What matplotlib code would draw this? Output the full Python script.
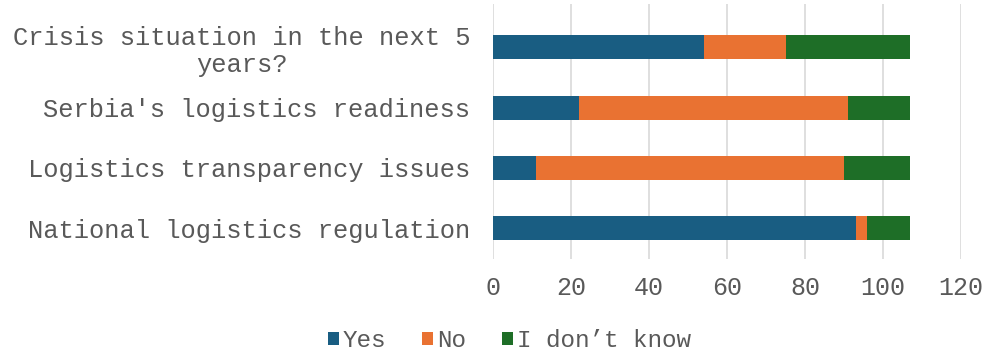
import numpy as np
import matplotlib.pyplot as plt

categories = ["National logistics regulation",
              "Logistics transparency issues",
              "Serbia's logistics readiness",
              "Crisis situation in the next 5\nyears?"]
yes = [93, 11, 22, 54]
no = [3, 79, 69, 21]
dont_know = [11, 17, 16, 32]
xticks = [0, 20, 40, 60, 80, 100, 120]

colors = ["#195d82", "#e97232", "#1e6e27"]
labels = ["Yes", "No", "I don\u2019t know"]
text_gray = "#595959"
font = "Liberation Mono"

fig = plt.figure(figsize=(9.85, 3.51), dpi=100)
ax = fig.add_axes([0.5008, 0.262, 0.4748, 0.727])

y = np.arange(len(categories))
left = np.zeros(len(categories))
for vals, c, lab in zip([yes, no, dont_know], colors, labels):
    ax.barh(y, vals, left=left, height=0.4, color=c, label=lab, zorder=3)
    left += np.array(vals)

ax.set_xlim(0, 120)
ax.set_ylim(-0.51, 3.72)
ax.set_xticks(xticks)
ax.set_yticks(y)
ax.set_yticklabels(categories, multialignment="center", linespacing=1.15)
ax.grid(axis="x", color="#d9d9d9", linewidth=1.2, zorder=0)
for s in ax.spines.values():
    s.set_visible(False)
ax.tick_params(axis="both", length=0, colors=text_gray, labelsize=18)
ax.tick_params(axis="y", pad=16.5, labelsize=18.4)
ax.tick_params(axis="x", pad=12)
for t in ax.get_xticklabels() + ax.get_yticklabels():
    t.set_fontfamily(font)

handles, labs = ax.get_legend_handles_labels()
fig.legend(handles, labs, loc="center", bbox_to_anchor=(0.517, 0.03), ncol=3,
           frameon=False, prop={"family": font, "size": 17.5}, labelcolor=text_gray,
           handlelength=0.45, handleheight=0.45, handletextpad=0.15, columnspacing=1.5,
           borderpad=0.1)

fig.savefig("out.png", dpi=100)
